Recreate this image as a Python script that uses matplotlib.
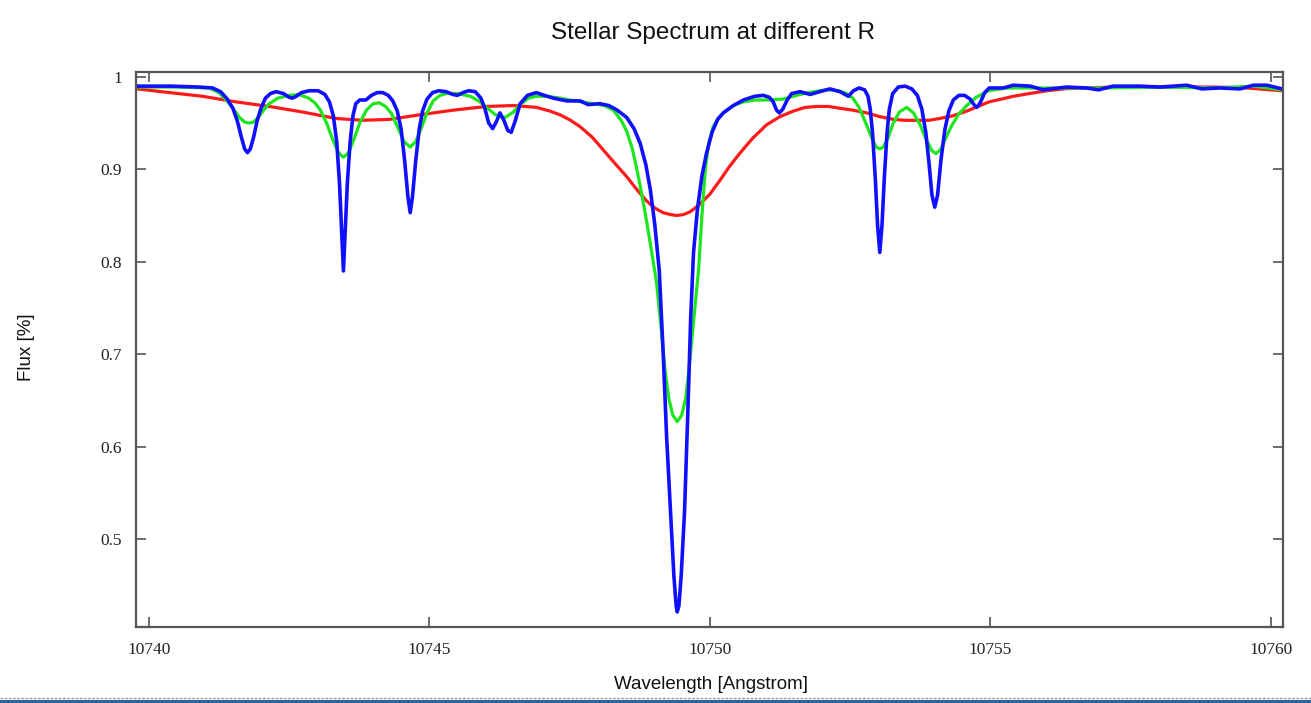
import matplotlib
matplotlib.use("Agg")
import matplotlib.pyplot as plt
from matplotlib.patches import Rectangle

# valores: (longitud de onda [A], flujo normalizado)
red_pts = [
    (10739.80, 0.987), (10740.37, 0.983), (10740.96, 0.979), (10741.55, 0.973),
    (10742.15, 0.968), (10742.74, 0.962), (10743.34, 0.955), (10743.81, 0.953),
    (10744.29, 0.954), (10744.83, 0.959), (10745.43, 0.964), (10746.02, 0.968),
    (10746.50, 0.969), (10746.91, 0.967), (10747.15, 0.963), (10747.33, 0.959),
    (10747.52, 0.953), (10747.69, 0.946), (10747.90, 0.935), (10748.10, 0.921),
    (10748.30, 0.907), (10748.52, 0.892), (10748.70, 0.878), (10748.87, 0.866),
    (10749.02, 0.858), (10749.17, 0.853), (10749.30, 0.851), (10749.41, 0.850),
    (10749.53, 0.851), (10749.65, 0.854), (10749.82, 0.862), (10750.00, 0.873),
    (10750.18, 0.888), (10750.35, 0.903), (10750.53, 0.917), (10750.77, 0.934),
    (10751.01, 0.948), (10751.25, 0.957), (10751.49, 0.963), (10751.70, 0.967),
    (10751.91, 0.968), (10752.12, 0.968), (10752.32, 0.966), (10752.55, 0.964),
    (10752.80, 0.961), (10753.03, 0.957), (10753.27, 0.954), (10753.48, 0.953),
    (10753.69, 0.953), (10753.90, 0.953), (10754.10, 0.955), (10754.34, 0.958),
    (10754.58, 0.963), (10754.78, 0.968), (10754.98, 0.973), (10755.20, 0.976),
    (10755.41, 0.979), (10755.70, 0.982), (10756.01, 0.985), (10756.30, 0.987),
    (10756.60, 0.988), (10757.20, 0.989), (10757.79, 0.989), (10758.40, 0.989),
    (10758.98, 0.989), (10759.57, 0.988), (10760.20, 0.985),
]

green_pts = [
    (10739.80, 0.989), (10740.50, 0.989), (10741.08, 0.988), (10741.25, 0.983),
    (10741.38, 0.975), (10741.50, 0.966), (10741.62, 0.956), (10741.71, 0.951),
    (10741.79, 0.950), (10741.87, 0.951), (10741.96, 0.957), (10742.06, 0.965),
    (10742.15, 0.971), (10742.30, 0.977), (10742.50, 0.980), (10742.68, 0.981),
    (10742.85, 0.977), (10742.96, 0.972), (10743.06, 0.964), (10743.17, 0.950),
    (10743.28, 0.932), (10743.38, 0.918), (10743.47, 0.913), (10743.56, 0.918),
    (10743.66, 0.933), (10743.76, 0.950), (10743.88, 0.964), (10744.00, 0.971),
    (10744.11, 0.972), (10744.22, 0.968), (10744.33, 0.960), (10744.44, 0.945),
    (10744.55, 0.930), (10744.66, 0.924), (10744.76, 0.930), (10744.86, 0.945),
    (10744.96, 0.961), (10745.07, 0.974), (10745.19, 0.980), (10745.31, 0.982),
    (10745.50, 0.982), (10745.73, 0.979), (10745.88, 0.974), (10746.02, 0.967),
    (10746.18, 0.959), (10746.35, 0.956), (10746.50, 0.962), (10746.62, 0.970),
    (10746.77, 0.977), (10746.91, 0.979), (10747.10, 0.979), (10747.33, 0.977),
    (10747.60, 0.974), (10747.92, 0.971), (10748.12, 0.969), (10748.28, 0.964),
    (10748.42, 0.953), (10748.52, 0.941), (10748.62, 0.922), (10748.70, 0.900),
    (10748.79, 0.872), (10748.87, 0.845), (10748.96, 0.812), (10749.05, 0.778),
    (10749.13, 0.730), (10749.20, 0.684), (10749.27, 0.652), (10749.34, 0.634),
    (10749.42, 0.627), (10749.50, 0.634), (10749.57, 0.652), (10749.63, 0.684),
    (10749.71, 0.735), (10749.80, 0.791), (10749.86, 0.850), (10749.92, 0.900),
    (10749.98, 0.928), (10750.06, 0.946), (10750.16, 0.956), (10750.28, 0.963),
    (10750.42, 0.969), (10750.60, 0.973), (10750.80, 0.975), (10751.01, 0.975),
    (10751.31, 0.976), (10751.61, 0.981), (10751.85, 0.984), (10752.08, 0.986),
    (10752.30, 0.985), (10752.44, 0.982), (10752.55, 0.977), (10752.66, 0.967),
    (10752.78, 0.950), (10752.90, 0.932), (10752.97, 0.924), (10753.03, 0.922),
    (10753.09, 0.924), (10753.17, 0.933), (10753.27, 0.950), (10753.38, 0.962),
    (10753.51, 0.967), (10753.63, 0.961), (10753.75, 0.948), (10753.86, 0.932),
    (10753.96, 0.920), (10754.03, 0.917), (10754.11, 0.921), (10754.20, 0.933),
    (10754.30, 0.946), (10754.44, 0.960), (10754.58, 0.969), (10754.75, 0.978),
    (10754.97, 0.985), (10755.30, 0.988), (10756.00, 0.988), (10757.00, 0.988),
    (10758.00, 0.989), (10759.00, 0.988), (10759.70, 0.990), (10760.20, 0.986),
]

blue_pts = [
    (10739.80, 0.990), (10740.40, 0.990), (10740.90, 0.989), (10741.14, 0.988),
    (10741.28, 0.984), (10741.40, 0.976), (10741.50, 0.966), (10741.58, 0.952),
    (10741.65, 0.935), (10741.71, 0.922), (10741.76, 0.918), (10741.81, 0.922),
    (10741.87, 0.935), (10741.93, 0.952), (10742.00, 0.966), (10742.08, 0.977),
    (10742.17, 0.982), (10742.27, 0.984), (10742.40, 0.982), (10742.50, 0.978),
    (10742.56, 0.977), (10742.63, 0.979), (10742.72, 0.983), (10742.86, 0.985),
    (10743.02, 0.985), (10743.14, 0.981), (10743.22, 0.973), (10743.29, 0.958),
    (10743.35, 0.930), (10743.40, 0.885), (10743.44, 0.830), (10743.47, 0.790),
    (10743.50, 0.830), (10743.54, 0.885), (10743.59, 0.930), (10743.64, 0.958),
    (10743.69, 0.971), (10743.76, 0.975), (10743.87, 0.975), (10743.97, 0.980),
    (10744.07, 0.983), (10744.17, 0.983), (10744.27, 0.980), (10744.35, 0.974),
    (10744.43, 0.963), (10744.50, 0.943), (10744.56, 0.910), (10744.62, 0.870),
    (10744.66, 0.853), (10744.70, 0.870), (10744.76, 0.910), (10744.82, 0.943),
    (10744.88, 0.963), (10744.96, 0.976), (10745.06, 0.983), (10745.17, 0.985),
    (10745.30, 0.984), (10745.42, 0.981), (10745.50, 0.980), (10745.60, 0.983),
    (10745.70, 0.985), (10745.82, 0.984), (10745.92, 0.977), (10745.99, 0.966),
    (10746.06, 0.950), (10746.13, 0.944), (10746.20, 0.952), (10746.26, 0.961),
    (10746.33, 0.953), (10746.40, 0.942), (10746.46, 0.940), (10746.53, 0.952),
    (10746.62, 0.971), (10746.75, 0.980), (10746.91, 0.983), (10747.05, 0.980),
    (10747.21, 0.977), (10747.45, 0.974), (10747.69, 0.974), (10747.83, 0.970),
    (10748.04, 0.971), (10748.20, 0.969), (10748.35, 0.964), (10748.52, 0.956),
    (10748.65, 0.944), (10748.76, 0.928), (10748.86, 0.905), (10748.94, 0.878),
    (10749.02, 0.840), (10749.10, 0.790), (10749.17, 0.700), (10749.23, 0.611),
    (10749.30, 0.530), (10749.36, 0.460), (10749.40, 0.428), (10749.42, 0.421),
    (10749.45, 0.428), (10749.49, 0.460), (10749.55, 0.530), (10749.61, 0.640),
    (10749.66, 0.740), (10749.71, 0.810), (10749.78, 0.857), (10749.86, 0.893),
    (10749.94, 0.917), (10750.04, 0.940), (10750.14, 0.954), (10750.24, 0.961),
    (10750.42, 0.969), (10750.60, 0.975), (10750.80, 0.979), (10750.95, 0.980),
    (10751.06, 0.978), (10751.13, 0.973), (10751.19, 0.964), (10751.24, 0.961),
    (10751.30, 0.965), (10751.38, 0.975), (10751.46, 0.982), (10751.61, 0.984),
    (10751.79, 0.981), (10751.96, 0.984), (10752.14, 0.987), (10752.32, 0.984),
    (10752.47, 0.979), (10752.56, 0.985), (10752.66, 0.988), (10752.76, 0.986),
    (10752.82, 0.979), (10752.86, 0.965), (10752.90, 0.940), (10752.95, 0.890),
    (10752.99, 0.840), (10753.03, 0.810), (10753.07, 0.840), (10753.11, 0.890),
    (10753.16, 0.940), (10753.20, 0.965), (10753.26, 0.982), (10753.36, 0.989),
    (10753.48, 0.990), (10753.60, 0.987), (10753.70, 0.980), (10753.78, 0.965),
    (10753.85, 0.940), (10753.91, 0.905), (10753.96, 0.872), (10754.01, 0.859),
    (10754.06, 0.872), (10754.12, 0.910), (10754.19, 0.943), (10754.26, 0.963),
    (10754.34, 0.975), (10754.44, 0.980), (10754.54, 0.980), (10754.64, 0.976),
    (10754.72, 0.969), (10754.76, 0.967), (10754.82, 0.972), (10754.90, 0.983),
    (10754.98, 0.988), (10755.23, 0.988), (10755.41, 0.991), (10755.71, 0.990),
    (10755.94, 0.986), (10756.36, 0.989), (10756.71, 0.988), (10756.93, 0.986),
    (10757.19, 0.990), (10757.67, 0.990), (10758.02, 0.989), (10758.50, 0.991),
    (10758.77, 0.987), (10759.09, 0.988), (10759.45, 0.987), (10759.69, 0.991),
    (10759.93, 0.991), (10760.20, 0.987),
]

x_ticks = [10740, 10745, 10750, 10755, 10760]
y_ticks = [0.5, 0.6, 0.7, 0.8, 0.9, 1.0]
y_tick_labels = ["0.5", "0.6", "0.7", "0.8", "0.9", "1"]

fig = plt.figure(figsize=(13.11, 7.03), dpi=100)
ax = fig.add_axes([0.1037, 0.1081, 0.875, 0.7895])

for pts, color, lw in [(red_pts, "#ff1a1a", 2.3),
                        (green_pts, "#1ee61e", 2.3),
                        (blue_pts, "#1010ff", 2.6)]:
    wl, flux = zip(*pts)
    ax.plot(wl, flux, color=color, lw=lw, solid_joinstyle="round")

ax.set_xlim(10739.772, 10760.218)
ax.set_ylim(0.4047, 1.0053)
ax.set_xticks(x_ticks)
ax.set_xticklabels([str(t) for t in x_ticks])
ax.set_yticks(y_ticks)
ax.set_yticklabels(y_tick_labels)

for s in ax.spines.values():
    s.set_color("#555555")
    s.set_linewidth(1.6)
ax.tick_params(direction="in", length=7, width=1.2, color="#555555",
               top=True, right=True, labelsize=12.5, labelcolor="#222222")
ax.tick_params(axis="y", pad=10)
ax.tick_params(axis="x", pad=11)
for lab in ax.get_xticklabels() + ax.get_yticklabels():
    lab.set_family("Liberation Serif")

fig.text(0.5435, 0.953, "Stellar Spectrum at different R", ha="center", va="center",
         fontsize=17.5, family="Liberation Sans", color="#111111")
fig.text(0.5425, 0.027, "Wavelength [Angstrom]", ha="center", va="center",
         fontsize=13.5, family="Liberation Sans", color="#111111")
fig.text(0.020, 0.506, "Flux [%]", ha="center", va="center", rotation=90,
         fontsize=13.5, family="Liberation Sans", color="#111111")

# franja inferior de la captura original
fig.add_artist(Rectangle((0, 0), 1, 0.004, transform=fig.transFigure,
                         color="#2f63a0", lw=0))
fig.add_artist(plt.Line2D([0, 1], [0.0065, 0.0065], transform=fig.transFigure,
                          color="#999999", lw=1, ls=(0, (2, 1))))

fig.savefig("out.png", dpi=100)
